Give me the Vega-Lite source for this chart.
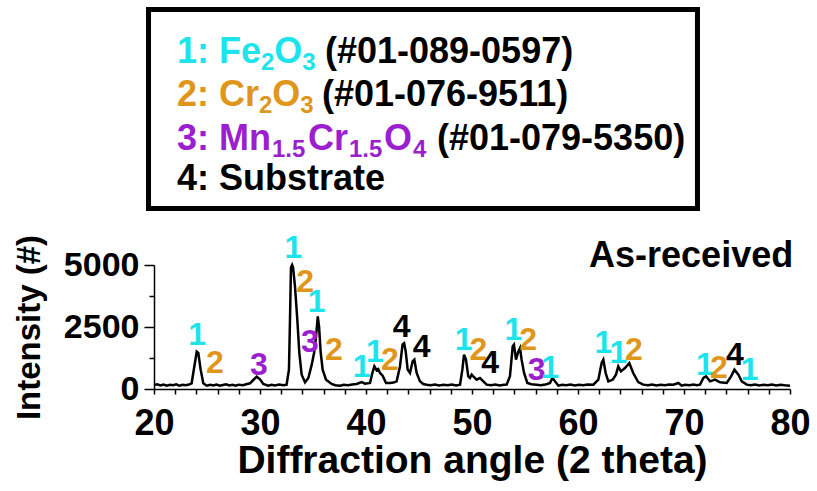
{
  "$schema": "https://vega.github.io/schema/vega-lite/v6.json",
  "autosize": {"type": "none"},
  "padding": {"left": 154, "top": 265, "right": 27, "bottom": 102},
  "width": 636,
  "height": 124,
  "background": "white",
  "config": {"view": {"stroke": null}, "font": "Liberation Sans"},
  "datasets": {
    "xrd": [
      {"angle":20.0,"intensity":160},{"angle":20.3,"intensity":190},{"angle":20.6,"intensity":140},{"angle":20.9,"intensity":180},
      {"angle":21.2,"intensity":130},{"angle":21.5,"intensity":170},{"angle":21.8,"intensity":150},{"angle":22.1,"intensity":190},
      {"angle":22.4,"intensity":130},{"angle":22.7,"intensity":170},{"angle":23.0,"intensity":150},{"angle":23.3,"intensity":180},
      {"angle":23.55,"intensity":229},{"angle":23.8,"intensity":900},{"angle":24.03,"intensity":1505},{"angle":24.18,"intensity":1451},
      {"angle":24.4,"intensity":780},{"angle":24.65,"intensity":229},{"angle":24.97,"intensity":134},{"angle":25.3,"intensity":170},
      {"angle":25.6,"intensity":140},{"angle":25.9,"intensity":180},{"angle":26.2,"intensity":130},{"angle":26.5,"intensity":160},
      {"angle":26.8,"intensity":190},{"angle":27.1,"intensity":140},{"angle":27.4,"intensity":170},{"angle":27.7,"intensity":130},
      {"angle":28.0,"intensity":175},{"angle":28.4,"intensity":150},{"angle":28.7,"intensity":190},{"angle":29.06,"intensity":229},
      {"angle":29.37,"intensity":363},{"angle":29.69,"intensity":497},{"angle":30.0,"intensity":390},{"angle":30.31,"intensity":202},
      {"angle":30.78,"intensity":134},{"angle":31.1,"intensity":170},{"angle":31.4,"intensity":140},{"angle":31.8,"intensity":180},
      {"angle":32.2,"intensity":150},{"angle":32.51,"intensity":175},{"angle":32.73,"intensity":780},{"angle":32.83,"intensity":2795},
      {"angle":32.92,"intensity":4900},{"angle":33.03,"intensity":5000},{"angle":33.12,"intensity":4900},{"angle":33.3,"intensity":4140},
      {"angle":33.52,"intensity":2795},{"angle":33.71,"intensity":1451},{"angle":33.93,"intensity":578},{"angle":34.25,"intensity":269},
      {"angle":34.56,"intensity":444},{"angle":34.88,"intensity":981},{"angle":35.1,"intensity":1451},{"angle":35.29,"intensity":2123},
      {"angle":35.45,"intensity":2930},{"angle":35.57,"intensity":2526},{"angle":35.73,"intensity":1451},{"angle":35.91,"intensity":780},
      {"angle":36.23,"intensity":376},{"angle":36.76,"intensity":202},{"angle":37.1,"intensity":150},{"angle":37.55,"intensity":134},
      {"angle":37.9,"intensity":170},{"angle":38.3,"intensity":150},{"angle":38.7,"intensity":180},{"angle":39.12,"intensity":202},
      {"angle":39.59,"intensity":282},{"angle":39.91,"intensity":215},{"angle":40.38,"intensity":242},{"angle":40.6,"intensity":645},
      {"angle":40.79,"intensity":914},{"angle":41.0,"intensity":760},{"angle":41.15,"intensity":800},{"angle":41.32,"intensity":645},
      {"angle":41.57,"intensity":538},{"angle":41.89,"intensity":242},{"angle":42.26,"intensity":242},{"angle":42.6,"intensity":260},
      {"angle":42.89,"intensity":309},{"angle":43.2,"intensity":900},{"angle":43.45,"intensity":1800},{"angle":43.6,"intensity":1848},
      {"angle":43.75,"intensity":1500},{"angle":43.93,"intensity":780},{"angle":44.15,"intensity":645},{"angle":44.4,"intensity":1116},
      {"angle":44.56,"intensity":1183},{"angle":44.78,"intensity":645},{"angle":45.09,"intensity":309},{"angle":45.4,"intensity":200},
      {"angle":45.72,"intensity":175},{"angle":46.1,"intensity":150},{"angle":46.5,"intensity":180},{"angle":46.9,"intensity":140},
      {"angle":47.3,"intensity":170},{"angle":47.7,"intensity":150},{"angle":48.1,"intensity":180},{"angle":48.5,"intensity":140},
      {"angle":48.87,"intensity":175},{"angle":49.09,"intensity":780},{"angle":49.25,"intensity":1384},{"angle":49.43,"intensity":1183},
      {"angle":49.65,"intensity":511},{"angle":49.81,"intensity":444},{"angle":49.97,"intensity":578},{"angle":50.12,"intensity":511},
      {"angle":50.44,"intensity":376},{"angle":50.75,"intensity":444},{"angle":51.07,"intensity":309},{"angle":51.38,"intensity":175},
      {"angle":51.8,"intensity":150},{"angle":52.2,"intensity":180},{"angle":52.6,"intensity":140},{"angle":53.0,"intensity":170},
      {"angle":53.27,"intensity":175},{"angle":53.58,"intensity":511},{"angle":53.84,"intensity":1720},{"angle":53.96,"intensity":1787},
      {"angle":54.15,"intensity":1183},{"angle":54.37,"intensity":1518},{"angle":54.53,"intensity":1653},{"angle":54.68,"intensity":1183},
      {"angle":54.91,"intensity":645},{"angle":55.22,"intensity":242},{"angle":55.6,"intensity":190},{"angle":56.1,"intensity":175},
      {"angle":56.5,"intensity":150},{"angle":56.9,"intensity":180},{"angle":57.1,"intensity":200},{"angle":57.36,"intensity":242},
      {"angle":57.58,"intensity":444},{"angle":57.83,"intensity":309},{"angle":58.15,"intensity":134},{"angle":58.5,"intensity":170},
      {"angle":58.9,"intensity":150},{"angle":59.3,"intensity":180},{"angle":59.7,"intensity":140},{"angle":60.1,"intensity":170},
      {"angle":60.5,"intensity":150},{"angle":60.9,"intensity":180},{"angle":61.45,"intensity":175},{"angle":61.92,"intensity":376},
      {"angle":62.23,"intensity":1048},{"angle":62.39,"intensity":1183},{"angle":62.61,"intensity":645},{"angle":62.86,"intensity":309},
      {"angle":63.27,"intensity":376},{"angle":63.58,"intensity":578},{"angle":63.8,"intensity":914},{"angle":64.05,"intensity":712},
      {"angle":64.43,"intensity":847},{"angle":64.84,"intensity":1048},{"angle":65.21,"intensity":645},{"angle":65.68,"intensity":282},
      {"angle":66.16,"intensity":175},{"angle":66.6,"intensity":150},{"angle":67.0,"intensity":180},{"angle":67.4,"intensity":140},
      {"angle":67.8,"intensity":170},{"angle":68.2,"intensity":150},{"angle":68.6,"intensity":180},{"angle":68.99,"intensity":175},
      {"angle":69.47,"intensity":242},{"angle":69.78,"intensity":134},{"angle":70.1,"intensity":170},{"angle":70.5,"intensity":150},
      {"angle":70.9,"intensity":180},{"angle":71.2,"intensity":150},{"angle":71.51,"intensity":175},{"angle":71.83,"intensity":444},
      {"angle":72.08,"intensity":511},{"angle":72.46,"intensity":309},{"angle":72.93,"intensity":376},{"angle":73.4,"intensity":269},
      {"angle":74.03,"intensity":242},{"angle":74.44,"intensity":511},{"angle":74.76,"intensity":780},{"angle":75.13,"intensity":578},
      {"angle":75.45,"intensity":309},{"angle":75.92,"intensity":175},{"angle":76.3,"intensity":150},{"angle":76.7,"intensity":180},
      {"angle":77.1,"intensity":140},{"angle":77.5,"intensity":170},{"angle":77.9,"intensity":150},{"angle":78.3,"intensity":180},
      {"angle":78.7,"intensity":140},{"angle":79.1,"intensity":170},{"angle":79.5,"intensity":150},{"angle":80.0,"intensity":134}
    ],
    "peaks": [
      {"angle":24.08,"intensity":1774,"phase":"1"},{"angle":25.75,"intensity":645,"phase":"2"},{"angle":29.9,"intensity":564,"phase":"3"},
      {"angle":33.14,"intensity":5282,"phase":"1"},{"angle":34.25,"intensity":3911,"phase":"2"},{"angle":35.35,"intensity":3105,"phase":"1"},
      {"angle":34.7,"intensity":1492,"phase":"3"},{"angle":36.98,"intensity":1169,"phase":"2"},{"angle":39.6,"intensity":484,"phase":"1"},
      {"angle":40.85,"intensity":1089,"phase":"1"},{"angle":42.26,"intensity":766,"phase":"2"},{"angle":43.37,"intensity":2100,"phase":"4"},
      {"angle":45.25,"intensity":1290,"phase":"4"},{"angle":49.2,"intensity":1572,"phase":"1"},{"angle":50.6,"intensity":1169,"phase":"2"},
      {"angle":51.7,"intensity":645,"phase":"4"},{"angle":53.9,"intensity":1976,"phase":"1"},{"angle":55.3,"intensity":1572,"phase":"2"},
      {"angle":56.1,"intensity":363,"phase":"3"},{"angle":57.36,"intensity":444,"phase":"1"},{"angle":62.39,"intensity":1452,"phase":"1"},
      {"angle":63.8,"intensity":1048,"phase":"1"},{"angle":65.28,"intensity":1169,"phase":"2"},{"angle":71.98,"intensity":564,"phase":"1"},
      {"angle":73.3,"intensity":444,"phase":"2"},{"angle":74.8,"intensity":968,"phase":"4"},{"angle":76.2,"intensity":363,"phase":"1"}
    ],
    "box": [{"angle":19.48,"angle2":71.27,"intensity":7278,"intensity2":15302}],
    "legendMain": [
      {"angle":22.17,"intensity":13156,"text":"1: Fe","phase":"1"},
      {"angle":31.349,"intensity":13156,"text":"O","phase":"1"},
      {"angle":36.132,"intensity":13156,"text":"(#01-089-0597)","phase":"4"},
      {"angle":22.17,"intensity":11411,"text":"2: Cr","phase":"2"},
      {"angle":31.16,"intensity":11411,"text":"O","phase":"2"},
      {"angle":35.849,"intensity":11411,"text":"(#01-076-9511)","phase":"4"},
      {"angle":22.17,"intensity":9637,"text":"3: Mn","phase":"3"},
      {"angle":34.528,"intensity":9637,"text":"Cr","phase":"3"},
      {"angle":41.698,"intensity":9637,"text":"O","phase":"3"},
      {"angle":46.698,"intensity":9637,"text":"(#01-079-5350)","phase":"4"},
      {"angle":22.17,"intensity":8024,"text":"4: Substrate","phase":"4"}
    ],
    "legendSub": [
      {"angle":30.094,"intensity":12874,"text":"2","phase":"1"},
      {"angle":33.991,"intensity":12874,"text":"3","phase":"1"},
      {"angle":29.906,"intensity":11129,"text":"2","phase":"2"},
      {"angle":33.802,"intensity":11129,"text":"3","phase":"2"},
      {"angle":31.132,"intensity":9355,"text":"1.5","phase":"3"},
      {"angle":38.396,"intensity":9355,"text":"1.5","phase":"3"},
      {"angle":44.434,"intensity":9355,"text":"4","phase":"3"}
    ],
    "sample": [{"angle":80.3,"intensity":4919,"text":"As-received"}]
  },
  "encoding": {
    "x": {
      "field": "angle", "type": "quantitative",
      "scale": {"domain": [20, 80], "nice": false, "zero": false},
      "axis": {
        "title": "Diffraction angle (2 theta)",
        "values": [20,22,24,26,28,30,32,34,36,38,40,42,44,46,48,50,52,54,56,58,60,62,64,66,68,70,72,74,76,78,80],
        "labelExpr": "datum.value % 10 === 0 ? datum.label : ''",
        "grid": false, "tickSize": 5, "tickWidth": 1.5, "tickColor": "black",
        "domainColor": "black", "domainWidth": 1.5,
        "labelFont": "Liberation Sans", "labelFontWeight": "bold", "labelFontSize": 36, "labelColor": "black",
        "labelPadding": 12, "labelFlush": false, "labelOverlap": false, "labelBound": false,
        "titleFont": "Liberation Sans", "titleFontWeight": "bold", "titleFontSize": 39, "titleColor": "black", "titlePadding": 0
      }
    },
    "y": {
      "field": "intensity", "type": "quantitative",
      "scale": {"domain": [0, 5000], "nice": false},
      "axis": {
        "title": "Intensity (#)",
        "values": [0, 1250, 2500, 3750, 5000],
        "format": "d",
        "labelExpr": "datum.value % 2500 === 0 ? datum.label : ''",
        "grid": false,
        "tickSize": {"condition": {"test": "datum.value % 2500 === 0", "value": 10}, "value": 5},
        "tickWidth": 1.5, "tickColor": "black",
        "domainColor": "black", "domainWidth": 1.5,
        "labelFont": "Liberation Sans", "labelFontWeight": "bold", "labelFontSize": 34, "labelColor": "black",
        "labelPadding": 5, "labelOverlap": false, "labelFlush": false, "labelBound": false,
        "titleFont": "Liberation Sans", "titleFontWeight": "bold", "titleFontSize": 33, "titleColor": "black", "titlePadding": 17
      }
    }
  },
  "layer": [
    {
      "data": {"name": "xrd"},
      "mark": {"type": "line", "color": "black", "strokeWidth": 2.5, "clip": false}
    },
    {
      "data": {"name": "peaks"},
      "mark": {"type": "text", "font": "Liberation Sans", "fontWeight": "bold", "fontSize": 32, "align": "center", "baseline": "alphabetic"},
      "encoding": {
        "text": {"field": "phase"},
        "color": {"field": "phase", "type": "nominal", "scale": {"domain": ["1","2","3","4"], "range": ["#1DE4EC","#E0961B","#9B1FCF","#000000"]}, "legend": null}
      }
    },
    {
      "data": {"name": "box"},
      "mark": {"type": "rect", "fill": "white", "stroke": "black", "strokeWidth": 5},
      "encoding": {
        "x2": {"field": "angle2"},
        "y2": {"field": "intensity2"}
      }
    },
    {
      "data": {"name": "legendMain"},
      "mark": {"type": "text", "font": "Liberation Sans", "fontWeight": "bold", "fontSize": 36, "align": "left", "baseline": "alphabetic"},
      "encoding": {
        "text": {"field": "text"},
        "color": {"field": "phase", "type": "nominal", "legend": null}
      }
    },
    {
      "data": {"name": "legendSub"},
      "mark": {"type": "text", "font": "Liberation Sans", "fontWeight": "bold", "fontSize": 24, "align": "left", "baseline": "alphabetic"},
      "encoding": {
        "text": {"field": "text"},
        "color": {"field": "phase", "type": "nominal", "legend": null}
      }
    },
    {
      "data": {"name": "sample"},
      "mark": {"type": "text", "font": "Liberation Sans", "fontWeight": "bold", "fontSize": 36, "align": "right", "baseline": "alphabetic", "color": "black"},
      "encoding": {"text": {"field": "text"}}
    }
  ]
}
